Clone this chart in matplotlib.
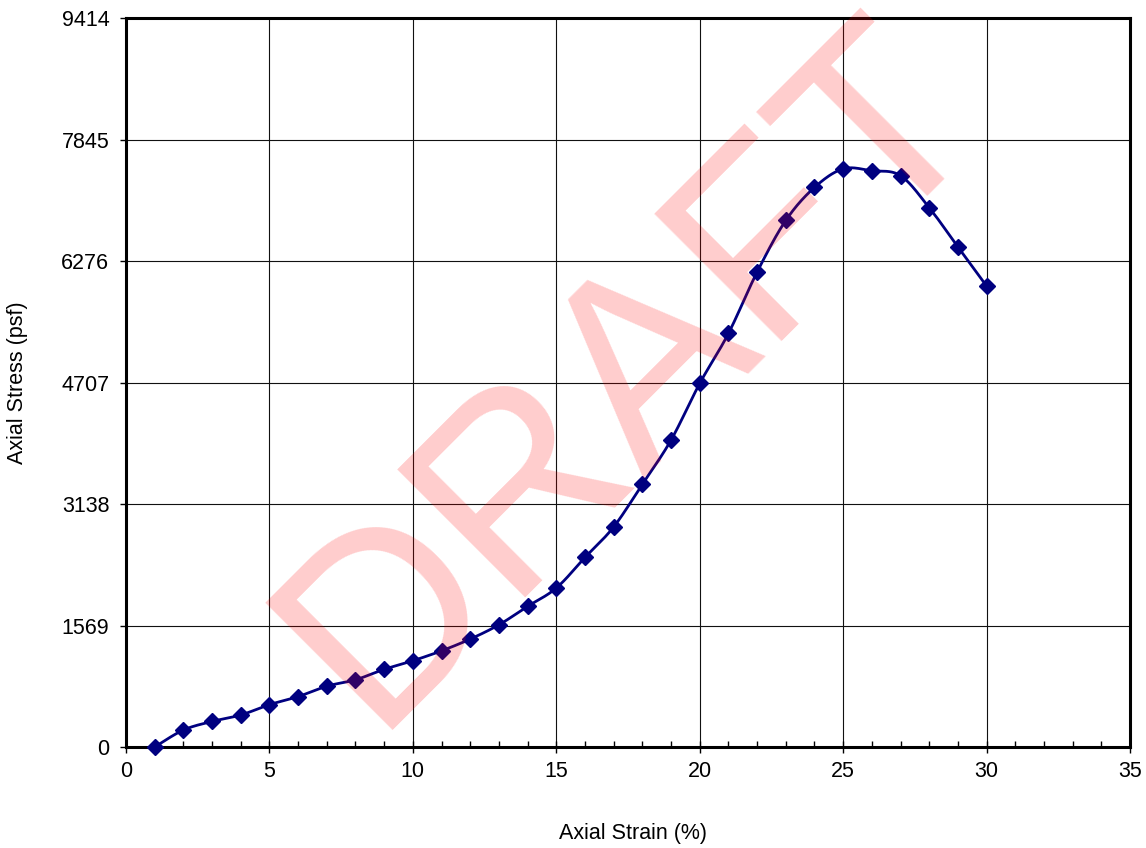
import numpy as np
import matplotlib
matplotlib.use("Agg")
import matplotlib.pyplot as plt
from matplotlib.ticker import MultipleLocator, FixedLocator

strain = [1, 2, 3, 4, 5, 6, 7, 8, 9, 10, 11, 12, 13, 14, 15,
          16, 17, 18, 19, 20, 21, 22, 23, 24, 25, 26, 27, 28, 29, 30]
stress = [0, 219, 330, 413, 547, 651, 786, 868, 1003, 1114, 1242, 1394, 1578, 1816, 2053,
          2448, 2842, 3393, 3963, 4695, 5340, 6133, 6800, 7226, 7466, 7442, 7378, 6965, 6458, 5953]
y_ticks = [0, 1569, 3138, 4707, 6276, 7845, 9414]
x_ticks = [0, 5, 10, 15, 20, 25, 30, 35]

plt.rcParams['font.family'] = ['Liberation Sans', 'DejaVu Sans']


def smooth(xs, ys, n=20):
    """Excel-like smoothed line (Catmull-Rom through the data points)."""
    x = np.asarray(xs, float)
    y = np.asarray(ys, float)
    px = np.concatenate([[x[0]], x, [x[-1]]])
    py = np.concatenate([[y[0]], y, [y[-1]]])
    ox, oy = [], []
    t = np.linspace(0, 1, n, endpoint=False)
    for i in range(1, len(px) - 2):
        for arr, out in ((px, ox), (py, oy)):
            p0, p1, p2, p3 = arr[i - 1], arr[i], arr[i + 1], arr[i + 2]
            c1 = p1 + (p2 - p0) / 6.0
            c2 = p2 - (p3 - p1) / 6.0
            b = ((1 - t) ** 3) * p1 + 3 * ((1 - t) ** 2) * t * c1 + 3 * (1 - t) * t ** 2 * c2 + t ** 3 * p2
            out.extend(b)
    ox.append(x[-1])
    oy.append(y[-1])
    return np.array(ox), np.array(oy)


W, H = 1146, 848
fig = plt.figure(figsize=(W / 100, H / 100), dpi=100)
ax = fig.add_axes([126 / W, 1 - 747 / H, (1130 - 126) / W, (747 - 18) / H])

ax.set_xlim(0, 35)
ax.set_ylim(0, 9414)
ax.xaxis.set_major_locator(FixedLocator(x_ticks))
ax.xaxis.set_minor_locator(MultipleLocator(1))
ax.yaxis.set_major_locator(FixedLocator(y_ticks))
ax.set_yticklabels([str(v) for v in y_ticks])
ax.set_xticklabels([str(v) for v in x_ticks])

ax.grid(True, which='major', color='#111111', linewidth=0.8, zorder=1)
ax.set_axisbelow(True)

for s in ax.spines.values():
    s.set_linewidth(2.2)
    s.set_color('black')

ax.tick_params(axis='x', which='major', direction='inout', length=8, width=1, labelsize=15.5, pad=6, colors='black')
ax.tick_params(axis='x', which='minor', direction='in', length=4, width=1)
ax.tick_params(axis='y', which='major', direction='out', length=4, width=1, labelsize=15.5, pad=8)

sx, sy = smooth(strain, stress)
ax.plot(sx, sy, color='#000080', linewidth=2, zorder=3, clip_on=False)
ax.plot(strain, stress, linestyle='none', marker='D', markersize=8.5, color='#000080', zorder=4, clip_on=False)

ax.set_xlabel('Axial Strain (%)', fontsize=15.5)
ax.xaxis.label.set_va('center')
ax.xaxis.set_label_coords((633 - 126) / 1004, (747 - 833) / 729)
ax.set_ylabel('Axial Stress (psf)', fontsize=15.5)
ax.yaxis.label.set_va('center')
ax.yaxis.label.set_ha('center')
ax.yaxis.set_label_coords((18 - 126) / 1004, (747 - 383) / 729)

fig.text(631 / W, 1 - 374 / H, 'DRAFT', fontsize=188, color='red', alpha=0.2,
         rotation=45, ha='center', va='center', rotation_mode='anchor', zorder=10,
         family='Liberation Sans')

fig.savefig('out.png', dpi=100, facecolor='white')
